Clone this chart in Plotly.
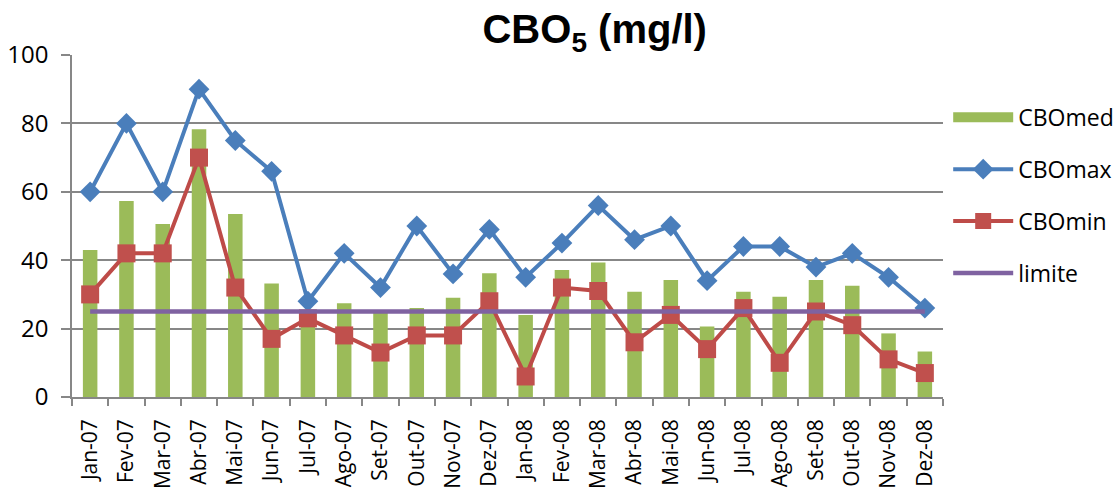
import plotly.graph_objects as go

# Monthly BOD5 readings (mg/l), Jan 2007 - Dec 2008
months = ["Jan-07", "Fev-07", "Mar-07", "Abr-07", "Mai-07", "Jun-07",
          "Jul-07", "Ago-07", "Set-07", "Out-07", "Nov-07", "Dez-07",
          "Jan-08", "Fev-08", "Mar-08", "Abr-08", "Mai-08", "Jun-08",
          "Jul-08", "Ago-08", "Set-08", "Out-08", "Nov-08", "Dez-08"]
cbo_med = [43, 57.3, 50.6, 78.3, 53.5, 33.2, 24, 27.4, 25, 26, 29, 36.2,
           24, 37.1, 39.3, 30.8, 34.2, 20.6, 30.8, 29.3, 34.2, 32.5, 18.6, 13.3]
cbo_max = [60, 80, 60, 90, 75, 66, 28, 42, 32, 50, 36, 49,
           35, 45, 56, 46, 50, 34, 44, 44, 38, 42, 35, 26]
cbo_min = [30, 42, 42, 70, 32, 17, 23, 18, 13, 18, 18, 28,
           6, 32, 31, 16, 24, 14, 26, 10, 25, 21, 11, 7]
limite = [25] * len(months)
y_ticks = [0, 20, 40, 60, 80, 100]

FONT = "Open Sans, Liberation Sans, sans-serif"
GRID = "#878787"
GREEN = "#9BBB59"

fig = go.Figure()
# legend key for the bars: a wide green block
fig.add_trace(go.Scatter(
    x=[None], y=[None], name="CBOmed", mode="lines",
    line=dict(color=GREEN, width=14), legendgroup="a"))
fig.add_trace(go.Bar(
    x=months, y=cbo_med, name="CBOmed", marker_color=GREEN,
    marker_line_width=0, width=0.4, legendgroup="a", showlegend=False))
fig.add_trace(go.Scatter(
    x=months, y=cbo_max, name="CBOmax", mode="lines+markers",
    line=dict(color="#4A7EBB", width=4),
    marker=dict(symbol="diamond", size=16, color="#4A7EBB"), legendgroup="b"))
fig.add_trace(go.Scatter(
    x=months, y=cbo_min, name="CBOmin", mode="lines+markers",
    line=dict(color="#BE4B48", width=4),
    marker=dict(symbol="square", size=18, color="#C0504D"), legendgroup="c"))
fig.add_trace(go.Scatter(
    x=months, y=limite, name="limite", mode="lines",
    line=dict(color="#7F62A1", width=4.5), legendgroup="d"))

fig.update_layout(
    width=1120, height=490,
    margin=dict(l=72, r=177, t=55, b=93),
    paper_bgcolor="white", plot_bgcolor="white",
    font=dict(family=FONT, color="black"),
    title=dict(
        text="CBO<sub>5</sub> (mg/l)",
        font=dict(family="Liberation Sans Narrow, Arial Narrow, Liberation Sans, sans-serif",
                  size=40, color="black", weight="bold"),
        xref="container", x=0.531, xanchor="center",
        yref="container", y=0.94, yanchor="middle"),
    showlegend=True,
    legend=dict(
        xref="container", yref="container",
        x=0.8466, xanchor="left", y=0.8045, yanchor="top",
        font=dict(size=23, family=FONT), tracegroupgap=19, itemwidth=60,
        bgcolor="rgba(0,0,0,0)"),
    bargap=0.6,
)
fig.update_xaxes(
    type="category", range=[-0.5, len(months) - 0.5],
    tickangle=-90, tickfont=dict(size=21),
    showline=True, linecolor=GRID, linewidth=1.5,
    ticks="outside", tickson="boundaries", ticklen=7, tickcolor=GRID, tickwidth=1.5,
    ticklabelstandoff=12, automargin=False,
    showgrid=False, fixedrange=True)
fig.update_yaxes(
    range=[0, 100], tickvals=y_ticks, tickfont=dict(size=24),
    showgrid=True, gridcolor=GRID, gridwidth=1.5,
    showline=True, linecolor=GRID, linewidth=1.5,
    ticks="outside", ticklen=9, tickcolor=GRID, tickwidth=1.5,
    ticklabelstandoff=8, automargin=False,
    zeroline=False, fixedrange=True)

fig.write_html("out.html")
